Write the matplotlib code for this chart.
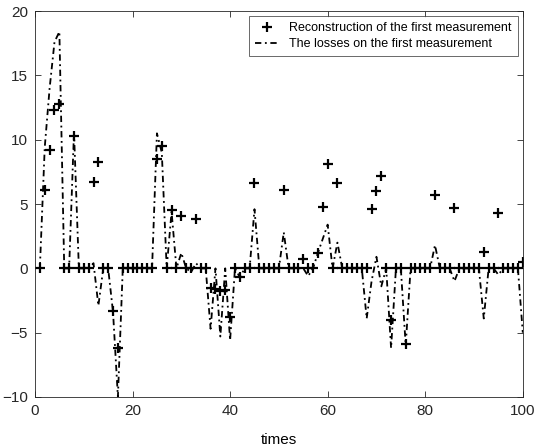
import numpy as np
import matplotlib
matplotlib.use('Agg')
import matplotlib.pyplot as plt

plt.rcParams['font.family'] = ['Liberation Sans', 'DejaVu Sans']

# time index 1..100
times = np.arange(1, 101)

# reconstruction of the first measurement (plus markers)
recon = [0, 6.1, 9.2, 12.3, 12.8, 0, 0, 10.3, 0, 0,
         0, 6.7, 8.3, 0, 0, -3.3, -6.2, 0, 0, 0,
         0, 0, 0, 0, 8.5, 9.5, 0, 4.5, 0, 4.1,
         0, 0, 3.8, 0, 0, -1.5, -1.6, -1.8, -1.7, -3.8,
         0, -0.7, 0, 0, 6.6, 0, 0, 0, 0, 0,
         6.1, 0, 0, 0, 0.7, 0, 0, 1.2, 4.8, 8.1,
         0, 6.6, 0, 0, 0, 0, 0, 0, 4.6, 6.0,
         7.2, 0, -4.0, 0, 0, -5.9, 0, 0, 0, 0,
         0, 5.7, 0, 0, 0, 4.7, 0, 0, 0, 0,
         0, 1.3, 0, 0, 4.3, 0, 0, 0, 0, 0.5]

# losses on the first measurement (dash-dot line)
losses = [0, 9.4, 14.0, 17.6, 18.4, 0, 0, 10.6, 0, 0,
          0, 0.4, -2.9, 0, 0, -3.4, -10.0, 0, 0, 0,
          0, 0, 0, 0, 10.5, 9.0, 0, 4.4, 0, 1.2,
          0, -0.3, 0.4, 0, 0, -4.7, 0, -5.3, 0, -5.6,
          0, -0.7, 0, 0, 4.6, 0, 0, 0, 0, 0,
          2.8, 0, 0, 0, 0, -0.6, 0, 1.2, 2.3, 3.4,
          0, 2.0, 0, 0, 0, 0, 0, -3.9, -1.0, 0.9,
          -1.4, 0, -6.2, 0, 0, -6.0, 0, 0, 0, 0,
          0, 1.8, 0, 0, 0, -1.0, 0, 0, 0, 0,
          0, -3.9, 0, 0, -0.5, 0, 0, 0, 0, -5.0]

fig = plt.figure(figsize=(5.34, 4.46), dpi=100)
ax = fig.add_axes([0.0655, 0.110, 0.9135, 0.865])

ax.plot(times, recon, linestyle='none', marker='+', color='black',
        markersize=7, markeredgewidth=1.6,
        label='Reconstruction of the first measurement')
ax.plot(times, losses, linestyle=(0, (3.5, 2, 1, 2)), color='black',
        linewidth=1.3, label='The losses on the first measurement')

ax.set_xlim(0, 100)
ax.set_ylim(-10, 20)
ax.set_xticks(np.arange(0, 101, 20))
ax.set_yticks(np.arange(-10, 21, 5))
ax.set_xlabel('times', fontsize=11, labelpad=11)

ax.tick_params(direction='in', top=True, right=True, labelsize=11,
               length=4, width=0.6, colors='#262626', pad=5)
for s in ax.spines.values():
    s.set_linewidth(0.6)
    s.set_color('#262626')

leg = ax.legend(loc='upper right', fontsize=9, frameon=True, fancybox=False,
                edgecolor='#262626', borderpad=0.5, handlelength=1.9,
                labelspacing=0.3, borderaxespad=0.4)
leg.get_frame().set_linewidth(0.6)

fig.savefig('out.png', dpi=100)
